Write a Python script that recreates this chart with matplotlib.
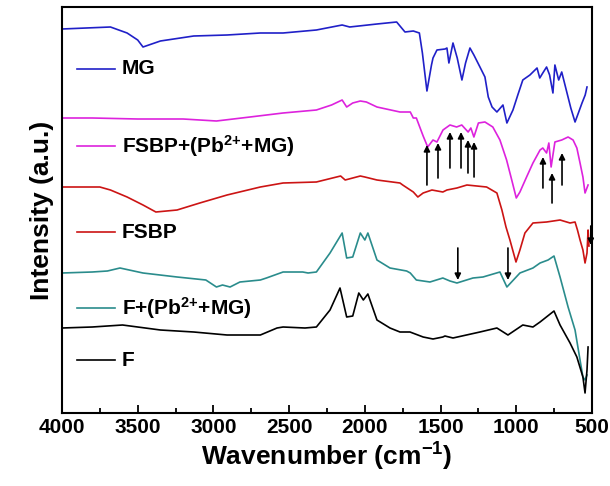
import matplotlib
matplotlib.use("Agg")
import matplotlib.pyplot as plt
from matplotlib.ticker import MultipleLocator

plt.rcParams['font.family'] = ['Liberation Sans', 'DejaVu Sans']
plt.rcParams['font.weight'] = 'bold'
# keep superscripts in the same bold sans face
plt.rcParams['mathtext.fontset'] = 'custom'
plt.rcParams['mathtext.rm'] = 'Liberation Sans:bold'
plt.rcParams['mathtext.it'] = 'Liberation Sans:bold'
plt.rcParams['mathtext.bf'] = 'Liberation Sans:bold'
plt.rcParams['mathtext.default'] = 'bf'

# spectra: wavenumber (cm-1) and offset intensity (a.u.)
mg_w = [4000, 3680, 3570, 3500, 3465, 3350, 3130, 2910, 2690, 2540, 2320, 2150, 2100,
        1920, 1790, 1735, 1680, 1640, 1620, 1590, 1560, 1550, 1524, 1470, 1458, 1445,
        1418, 1390, 1359, 1335, 1306, 1280, 1240, 1207, 1185, 1160, 1128, 1088, 1062,
        1022, 990, 957, 910, 863, 845, 825, 800, 780, 758, 745, 720, 700, 665, 640,
        612, 590, 566, 545, 533]
mg_i = [384, 386, 380, 373, 366, 372, 377, 378, 380, 380, 383, 388, 386,
        389, 391, 381, 382, 380, 360, 322, 348, 355, 363, 364, 365, 350,
        370, 355, 333, 350, 365, 358, 346, 336, 316, 306, 301, 308, 290,
        303, 318, 333, 338, 345, 335, 340, 346, 338, 320, 348, 333, 341, 320, 305,
        291, 300, 310, 318, 326]

fsbp_mg_w = [4000, 3800, 3500, 3200, 2980, 2758, 2540, 2320, 2220, 2150, 2120, 2080,
             2030, 1990, 1920, 1768, 1700, 1680, 1660, 1615, 1585, 1550, 1524, 1484,
             1438, 1394, 1360, 1318, 1300, 1280, 1250, 1207, 1155, 1108, 1064, 1030,
             1000, 976, 932, 890, 843, 825, 800, 785, 770, 745, 700, 658, 625, 600,
             579, 560, 546, 526]
fsbp_mg_i = [295, 295, 294, 294, 292, 296, 300, 303, 308, 313, 306, 310,
             312, 311, 306, 301, 301, 295, 295, 277, 266, 273, 271, 283,
             288, 286, 288, 281, 285, 276, 290, 291, 286, 273, 253, 233,
             215, 221, 236, 250, 263, 265, 260, 270, 246, 271, 273, 276, 273, 265,
             250, 236, 220, 228]

fsbp_w = [4000, 3750, 3680, 3570, 3465, 3380, 3240, 3090, 2910, 2690, 2540, 2320,
          2160, 2130, 2030, 2000, 1920, 1768, 1750, 1680, 1650, 1615, 1557, 1485,
          1458, 1392, 1326, 1196, 1128, 1095, 1068, 1042, 1002, 976, 943, 890, 800,
          711, 645, 612, 596, 579, 560, 546, 533, 526, 520]
fsbp_i = [226, 226, 223, 216, 208, 201, 203, 210, 218, 226, 230, 231,
          237, 233, 237, 236, 233, 230, 228, 221, 216, 220, 223, 221,
          223, 225, 228, 226, 220, 203, 186, 173, 151, 163, 180, 190, 191,
          193, 190, 191, 183, 173, 163, 150, 160, 183, 167]

f_mg_w = [4000, 3800, 3700, 3617, 3465, 3240, 3050, 2980, 2940, 2890, 2825, 2690,
          2650, 2540, 2410, 2375, 2320, 2230, 2150, 2120, 2080, 2030, 2000, 1980,
          1920, 1834, 1724, 1700, 1660, 1570, 1485, 1438, 1392, 1286, 1220, 1108,
          1062, 976, 890, 843, 790, 751, 711, 658, 612, 579, 560, 546, 533]
f_mg_i = [140, 141, 142, 145, 140, 136, 133, 126, 128, 126, 131, 133,
          135, 141, 141, 140, 141, 160, 180, 155, 156, 180, 173, 180,
          153, 145, 142, 140, 133, 131, 135, 132, 130, 135, 136, 141,
          126, 140, 145, 150, 153, 157, 136, 106, 83, 53, 36, 33, 38]

f_w = [4000, 3800, 3600, 3350, 3130, 2910, 2690, 2580, 2540, 2395, 2320, 2230,
       2164, 2120, 2080, 2040, 2010, 1980, 1920, 1834, 1768, 1702, 1615, 1550,
       1485, 1471, 1418, 1240, 1128, 1055, 957, 890, 843, 751, 711, 645, 600,
       560, 546, 533, 526]
f_i = [85, 86, 88, 83, 81, 78, 78, 85, 86, 85, 86, 103,
       125, 96, 97, 120, 113, 119, 93, 85, 81, 81, 76, 74,
       76, 77, 75, 81, 85, 78, 88, 86, 91, 102, 88, 70, 56,
       36, 20, 43, 66]

labels = ['MG', r'FSBP+(Pb$^{2{+}}$+MG)', 'FSBP', r'F+(Pb$^{2{+}}$+MG)', 'F']
colors = ['#2020c8', '#dd22dd', '#cc1414', '#2a8c8c', '#000000']
label_levels = [344, 267, 181, 105, 53]

# band markers: (wavenumber, tail, head)
up_arrows = [(1590, 228, 268), (1517, 235, 270), (1438, 245, 281), (1365, 245, 281),
             (1319, 240, 273), (1279, 236, 271), (824, 225, 256), (764, 210, 240),
             (698, 228, 260)]
down_arrows = [(1386, 165, 133), (1055, 165, 133), (508, 187, 168)]

fig = plt.figure(figsize=(6.1, 4.86), dpi=100)
ax = fig.add_axes([0.1016, 0.1502, 0.8689, 0.8354])

series = [(mg_w, mg_i), (fsbp_mg_w, fsbp_mg_i), (fsbp_w, fsbp_i), (f_mg_w, f_mg_i), (f_w, f_i)]
for (w, i), c in zip(series, colors):
    ax.plot(w, i, color=c, lw=1.2)

# inline legend
for lab, c, lev in zip(labels, colors, label_levels):
    ax.plot([3900, 3650], [lev, lev], color=c, lw=1.2)
    ax.text(3605, lev, lab, fontsize=15, fontweight='bold', va='center', ha='left')

for w, tail, head in up_arrows + down_arrows:
    ax.annotate('', xy=(w, head), xytext=(w, tail),
                arrowprops=dict(arrowstyle='-|>', color='black', lw=1.2,
                                mutation_scale=9, shrinkA=0, shrinkB=0))

ax.set_xlim(4000, 500)
ax.set_ylim(0, 406)
ax.xaxis.set_major_locator(MultipleLocator(500))
ax.xaxis.set_minor_locator(MultipleLocator(250))
ax.tick_params(axis='x', which='both', direction='in', top=False, labelsize=15)
ax.tick_params(axis='x', which='major', length=6, width=1.3)
ax.tick_params(axis='x', which='minor', length=3.5, width=1.3)
ax.set_yticks([])
for s in ax.spines.values():
    s.set_linewidth(1.5)
for t in ax.get_xticklabels():
    t.set_fontweight('bold')

ax.set_xlabel('Wavenumber (cm$^{-1}$)', fontsize=19, fontweight='bold', labelpad=3)
ax.set_ylabel('Intensity (a.u.)', fontsize=19, fontweight='bold', labelpad=6)

fig.savefig('out.png', dpi=100)
